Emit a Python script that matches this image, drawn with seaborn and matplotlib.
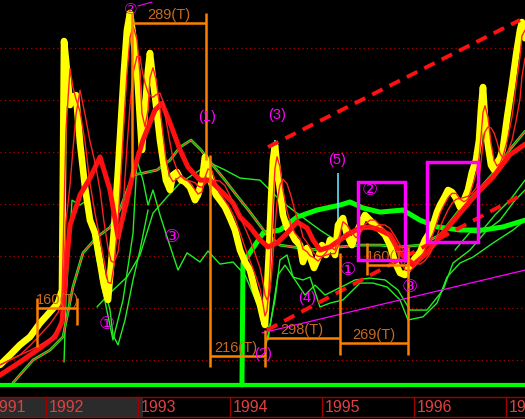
import matplotlib
matplotlib.use("Agg")
import matplotlib.pyplot as plt
import numpy as np
import pandas as pd
import seaborn as sns
from matplotlib.patches import Rectangle

# index close, fractional years
price_years = [1991.500, 1991.609, 1991.717, 1991.826, 1991.935, 1992.043, 1992.130, 1992.174,
               1992.196, 1992.217, 1992.261, 1992.293, 1992.326, 1992.370, 1992.424, 1992.478,
               1992.533, 1992.587, 1992.630, 1992.674, 1992.707, 1992.739, 1992.783, 1992.815,
               1992.848, 1992.880, 1992.913, 1992.946, 1992.989, 1993.022, 1993.043, 1993.076,
               1993.109, 1993.130, 1993.163, 1993.196, 1993.239, 1993.272, 1993.304, 1993.348,
               1993.380, 1993.424, 1993.467, 1993.511, 1993.565, 1993.620, 1993.652, 1993.696,
               1993.728, 1993.761, 1993.804, 1993.848, 1993.891, 1993.946, 1994.000, 1994.054,
               1994.109, 1994.163, 1994.217, 1994.272, 1994.326, 1994.359, 1994.380, 1994.402,
               1994.424, 1994.446, 1994.467, 1994.489, 1994.511, 1994.543, 1994.576, 1994.620,
               1994.663, 1994.707, 1994.761, 1994.793, 1994.837, 1994.870, 1994.913, 1994.957,
               1995.000, 1995.043, 1995.087, 1995.141, 1995.174, 1995.196, 1995.228, 1995.272,
               1995.326, 1995.370, 1995.413, 1995.467, 1995.522, 1995.576, 1995.630, 1995.685,
               1995.739, 1995.793, 1995.848, 1995.902, 1995.957, 1996.011, 1996.065, 1996.120,
               1996.174, 1996.217, 1996.250, 1996.283, 1996.326, 1996.370, 1996.413, 1996.457,
               1996.500, 1996.543, 1996.587, 1996.630, 1996.674, 1996.707, 1996.728, 1996.750,
               1996.772, 1996.804, 1996.837, 1996.870, 1996.902, 1996.935, 1996.967, 1997.011,
               1997.065, 1997.109, 1997.152, 1997.174, 1997.207]
price_close = [181, 219, 258, 289, 342, 385, 419, 469,
               1427, 1354, 1181, 1212, 1219, 1035, 865, 738,
               688, 577, 488, 431, 565, 700, 931, 1123,
               1315, 1469, 1535, 1450, 1315, 1123, 1008, 1162,
               1315, 1381, 1277, 1181, 1046, 969, 892, 854,
               912, 923, 892, 885, 865, 815, 835, 892,
               981, 931, 873, 835, 815, 788, 746, 700,
               623, 577, 546, 469, 412, 362, 335, 469,
               623, 815, 969, 1027, 950, 854, 758, 708,
               692, 662, 642, 577, 631, 596, 554, 592,
               642, 604, 662, 604, 719, 731, 746, 681,
               642, 688, 719, 758, 738, 719, 700, 681,
               642, 577, 535, 527, 565, 592, 615, 662,
               692, 731, 769, 796, 823, 854, 846, 823,
               788, 815, 854, 923, 969, 1046, 1162, 1250,
               1123, 1027, 950, 931, 958, 977, 1015, 1131,
               1258, 1373, 1469, 1500, 1438]

# intraday highs drawn as wicks
wick_years = [1992.196, 1992.913, 1993.130, 1994.489, 1995.174, 1996.750]
wick_high = [1431, 1546, 1392, 1046, 920, 1258]
wick_low = [1354, 1500, 1340, 1000, 719, 1200]

# slow red moving average
ma_red_years = [1991.500, 1991.717, 1991.935, 1992.098, 1992.174, 1992.217, 1992.261, 1992.370,
                1992.478, 1992.587, 1992.696, 1992.783, 1992.880, 1992.946, 1993.054, 1993.185,
                1993.261, 1993.348, 1993.457, 1993.543, 1993.674, 1993.783, 1993.891, 1994.033,
                1994.109, 1994.217, 1994.326, 1994.413, 1994.511, 1994.620, 1994.728, 1994.837,
                1994.902, 1994.978, 1995.087, 1995.196, 1995.304, 1995.413, 1995.522, 1995.630,
                1995.739, 1995.848, 1995.989, 1996.141, 1996.315, 1996.500, 1996.685, 1996.859,
                1997.043, 1997.207]
ma_red = [142, 192, 246, 289, 346, 546, 719, 835,
          900, 981, 854, 673, 815, 919, 1046, 1162,
          1188, 1112, 1008, 942, 892, 892, 854, 804,
          750, 712, 662, 635, 650, 688, 731, 708,
          662, 623, 635, 662, 688, 708, 712, 700,
          681, 612, 565, 612, 688, 765, 842, 904,
          990, 1030]

# green/red moving average
ma_gr_years = [1991.641, 1991.859, 1992.043, 1992.185, 1992.293, 1992.402, 1992.554, 1992.696,
               1992.804, 1992.946, 1993.054, 1993.207, 1993.348, 1993.457, 1993.576, 1993.685,
               1993.793, 1993.946, 1994.054, 1994.217, 1994.380, 1994.543, 1994.761, 1994.978,
               1995.196, 1995.413, 1995.630, 1995.848, 1996.065, 1996.283, 1996.500, 1996.717,
               1996.902, 1997.043, 1997.207]
ma_gr = [112, 200, 238, 289, 481, 612, 673, 710,
         780, 912, 919, 931, 969, 1019, 1046, 1008,
         958, 892, 842, 769, 692, 642, 631, 623,
         635, 642, 642, 635, 642, 681, 780, 860,
         935, 1010, 1080]

# long green moving average
ma_long_years = [1994.130, 1994.141, 1994.359, 1994.543, 1994.728, 1994.946, 1995.196, 1995.304,
                 1995.446, 1995.630, 1995.880, 1996.065, 1996.250, 1996.500, 1996.750, 1996.967,
                 1997.207]
ma_long = [104, 573, 688, 700, 750, 777, 796, 808,
           785, 769, 777, 738, 712, 700, 700, 712,
           738]

# thin green comparison lines
ga_years = [1992.554, 1992.696, 1992.880, 1993.022, 1993.163, 1993.315, 1993.457, 1993.674,
            1993.783, 1993.946, 1994.109, 1994.326, 1994.543, 1994.728, 1994.978, 1995.196]
ga = [404, 458, 519, 604, 765, 827, 881, 931, 958, 931, 900, 892, 815, 765, 700, 650]

gb_years = [1992.587, 1992.728, 1992.837, 1992.946, 1992.989, 1993.054, 1993.109, 1993.163,
            1993.239, 1993.326, 1993.435, 1993.533, 1993.674, 1993.761, 1993.891, 1994.033,
            1994.163, 1994.326, 1994.435]
gb = [519, 277, 431, 688, 969, 892, 796, 854, 758, 662, 546, 612, 577, 619, 569, 577,
      527, 392, 315]

gd_years = [1992.196, 1992.217, 1992.283, 1992.370, 1992.446, 1992.554, 1992.696, 1992.728,
            1992.783, 1992.859, 1992.946, 1993.022, 1993.109]
gd = [192, 431, 815, 796, 815, 585, 392, 296, 258, 354, 508, 623, 777]

ge_years = [1994.380, 1994.489, 1994.543, 1994.620, 1994.685, 1994.793, 1994.870, 1994.978,
            1995.087, 1995.228, 1995.413, 1995.554, 1995.707, 1995.848, 1995.935, 1996.098,
            1996.250, 1996.359, 1996.500, 1996.641, 1996.859, 1997.076, 1997.207]
ge = [238, 431, 585, 604, 519, 508, 519, 404, 419, 431, 496, 496, 481, 431, 354, 366,
      419, 519, 573, 596, 650, 700, 738]

gf_years = [1994.413, 1994.522, 1994.598, 1994.707, 1994.815, 1994.924, 1995.033, 1995.141,
            1995.250, 1995.359, 1995.522, 1995.685, 1995.826, 1995.957, 1996.141, 1996.315,
            1996.424, 1996.609, 1996.794, 1996.935, 1997.098, 1997.207]
gf = [277, 527, 565, 508, 450, 488, 450, 469, 488, 508, 515, 508, 469, 392, 392, 469,
      573, 623, 700, 738, 815, 854]

gg_years = [1996.446, 1996.609, 1996.717, 1996.880, 1997.043, 1997.207]
gg = [623, 692, 688, 758, 815, 892]

grid_levels = [200, 400, 600, 800, 1000, 1200, 1400]
year_ticks = [1991, 1992, 1993, 1994, 1995, 1996, 1997]
year_labels = ["1991", "1992", "1993", "1994", "1995", "1996", "19"]

sns.set_theme(style="dark", rc={"axes.facecolor": "black", "figure.facecolor": "black"})
plt.rcParams["font.family"] = ["Liberation Sans", "DejaVu Sans"]

fig = plt.figure(figsize=(5.25, 4.19), dpi=100)
ax = fig.add_axes([0, 26 / 419, 1, 393 / 419])
sx = fig.add_axes([0, 0, 1, 26 / 419], sharex=ax)
x0, x1 = 1991.5, 1991.5 + 525 / 92
ax.set_xlim(x0, x1)
ax.set_ylim(73, 1585)

for lv in grid_levels:
    ax.axhline(lv, color="#b00000", lw=0.9, ls=(0, (1, 2.5)), zorder=1)

ORANGE = "#ff8000"
OTXT = "#c86a1e"
MAG = "#ff00ff"

def line(xs, ys, color, lw, z):
    sns.lineplot(x=xs, y=ys, ax=ax, color=color, lw=lw, sort=False, estimator=None, zorder=z)

for xs, ys in [(ga_years, ga), (gb_years, gb), (gd_years, gd), (ge_years, ge), (gf_years, gf), (gg_years, gg)]:
    line(xs, ys, "#22ee22", 1.0, 2)

line(ma_long_years, ma_long, "#00ff00", 3.6, 3)
line(ma_gr_years, ma_gr, "#22ee22", 2.0, 3)
line(ma_gr_years, ma_gr, "#ff2020", 0.7, 3.1)

df = pd.DataFrame({"year": price_years, "close": price_close})
df["fast"] = df["close"].rolling(3, min_periods=1).mean()
df["mid"] = df["close"].rolling(6, min_periods=1).mean()

ax.vlines(wick_years, wick_low, wick_high, color="#66ddff", lw=1.2, zorder=4)
sns.lineplot(data=df, x="year", y="close", ax=ax, color="#ffff00", lw=4.8, sort=False, estimator=None, zorder=4)
line(ma_red_years, ma_red, "#ff1010", 3.6, 5)
sns.lineplot(data=df, x="year", y="fast", ax=ax, color="#ff2020", lw=1.0, sort=False, estimator=None, zorder=5)
sns.lineplot(data=df, x="year", y="mid", ax=ax, color="#ff2020", lw=1.0, sort=False, estimator=None, zorder=5)

ax.axhline(104, color="#00ff00", lw=3, zorder=6)

# trend lines
ax.plot([1994.413, 1997.152], [1019, 1508], color="#ff1010", lw=2.8, ls=(0, (3, 2)), zorder=6)
ax.plot([1994.402, 1997.207], [315, 842], color="#ff1010", lw=2.8, ls=(0, (3, 2)), zorder=6)
ax.plot([1994.348, 1997.207], [304, 546], color=MAG, lw=0.9, zorder=6)

for (bx0, bx1, by0, by1) in [(1995.391, 1995.902, 585, 885), (1996.141, 1996.696, 654, 962)]:
    ax.add_patch(Rectangle((bx0, by0), bx1 - bx0, by1 - by0, fill=False, ec=MAG, lw=2.5, zorder=7))

# orange time brackets
def seg(xs, ys):
    ax.plot(xs, ys, color=ORANGE, lw=1.8, zorder=6.5, solid_capstyle="butt")

def lab(x, y, s):
    ax.text(x, y + 4, s, color=OTXT, fontsize=10.5, ha="center", va="bottom", zorder=6.6)

seg([1991.902, 1991.902], [250, 438]); seg([1991.902, 1992.337], [400, 400]); seg([1992.337, 1992.337], [335, 438])
lab(1992.120, 400, "160(T)")
seg([1992.935, 1992.935], [904, 1535]); seg([1992.935, 1993.739], [1496, 1496]); seg([1993.739, 1993.739], [969, 1535])
lab(1993.337, 1496, "289(T)")
seg([1993.783, 1993.783], [173, 988]); seg([1993.783, 1994.380], [215, 215])
lab(1994.065, 215, "216(T)")
seg([1994.380, 1994.380], [173, 315]); seg([1994.380, 1995.196], [285, 285]); seg([1995.196, 1995.196], [219, 612])
lab(1994.783, 285, "298(T)")
seg([1995.196, 1995.935], [265, 265]); seg([1995.935, 1995.935], [219, 635])
lab(1995.565, 265, "269(T)")
seg([1995.489, 1995.489], [527, 650]); seg([1995.489, 1995.935], [565, 565])
lab(1995.707, 565, "160(T)")

# wave labels
for x, y, s, fs in [(1992.924, 1548, "②", 11), (1993.750, 1135, "(1)", 10.5), (1994.511, 1142, "(3)", 10.5),
                    (1995.163, 969, "(5)", 10.5), (1994.837, 438, "(4)", 10.5), (1994.355, 224, "(2)", 10.5),
                    (1992.663, 335, "①", 13), (1993.370, 673, "③", 13), (1995.283, 546, "①", 13),
                    (1995.522, 854, "②", 13), (1995.957, 477, "③", 13)]:
    ax.text(x, y, s, color=MAG, fontsize=fs, ha="center", va="center", zorder=8)
ax.plot([1993.0, 1993.152], [1562, 1577], color=MAG, lw=0.8, zorder=8)

ax.set_axis_off()

# time strip
sx.set_ylim(26, 0)
sx.set_facecolor("black")
sx.add_patch(Rectangle((x0, 4), 143 / 92, 20, fc="#2b2b2b", ec="none"))
sx.plot([x0, x1], [4, 4], color="#a00000", lw=1)
sx.plot([x0, x1], [24, 24], color="#a00000", lw=1)
for yr in year_ticks[1:]:
    sx.plot([yr, yr], [4, 24], color="#a00000", lw=1)
for yr, s in zip(year_ticks, year_labels):
    xpos = yr + 3 / 92 if yr > 1991 else x0 - 9 / 92
    sx.text(xpos, 14.5, s, color="#e04040", fontsize=11.5, ha="left", va="center")
sx.set_axis_off()

fig.savefig("out.png", dpi=100, facecolor="black")
